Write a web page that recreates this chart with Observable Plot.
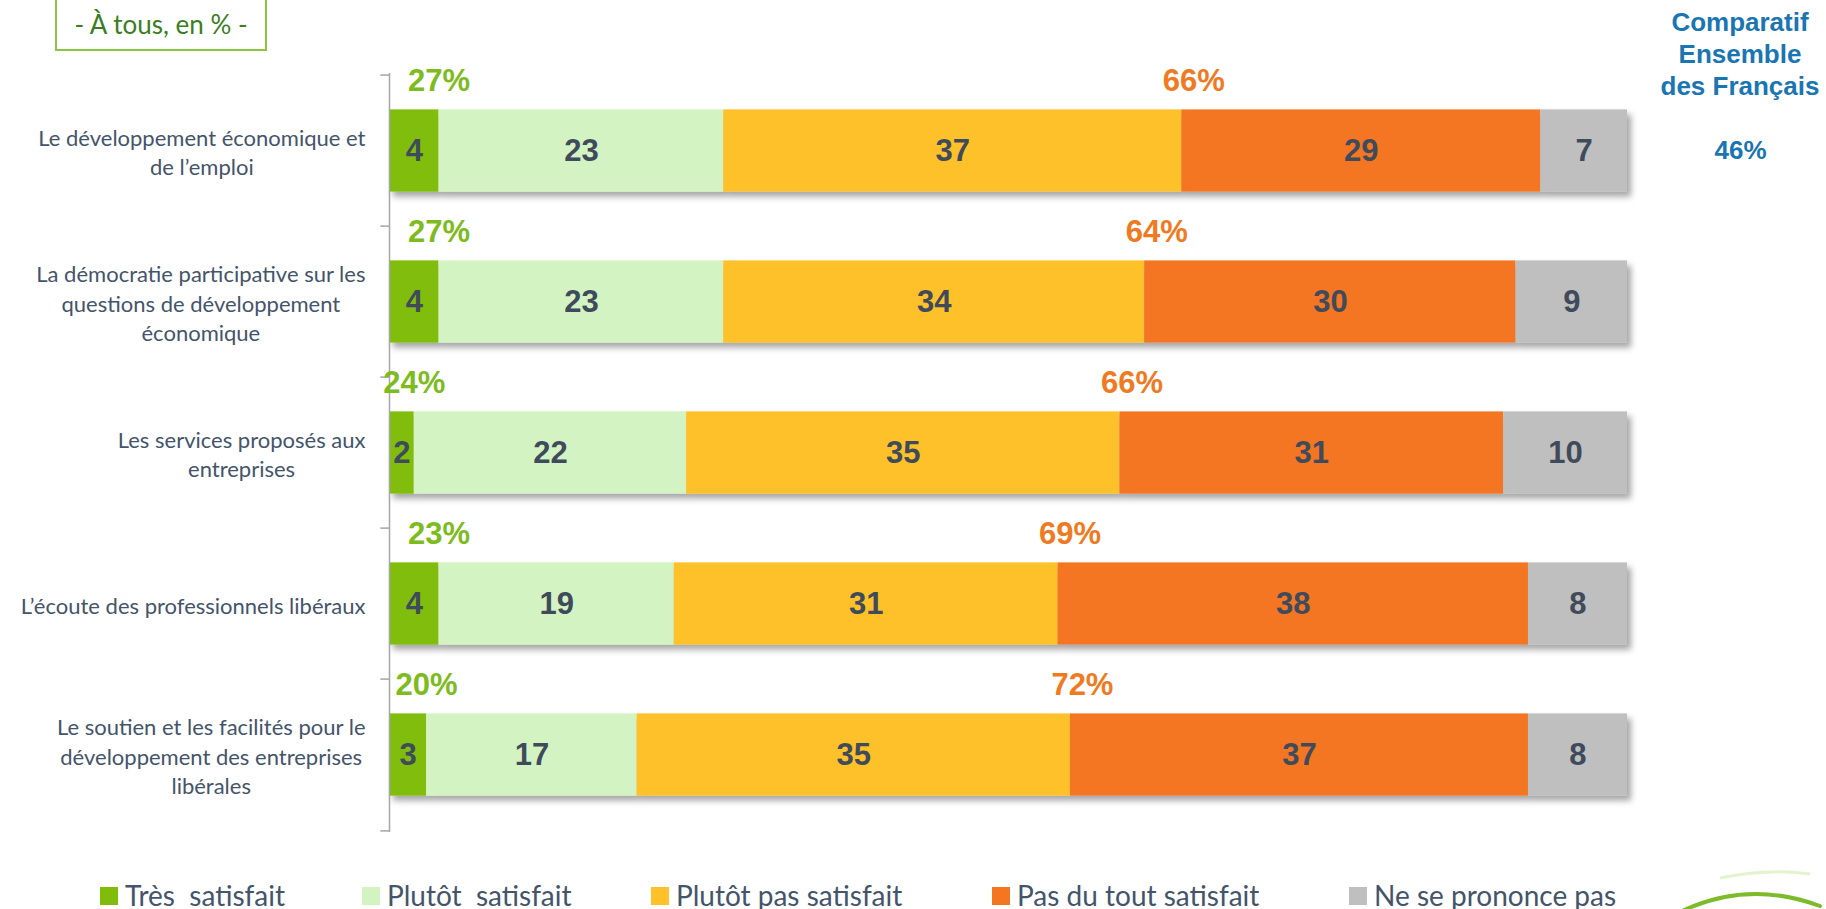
<!DOCTYPE html>
<html>
<head>
<meta charset="utf-8">
<script src="https://cdn.jsdelivr.net/npm/d3@7"></script>
<script src="https://cdn.jsdelivr.net/npm/@observablehq/plot@0.6"></script>
<style>
  html, body { margin: 0; padding: 0; background: #fff; }
  body { width: 1826px; height: 909px; overflow: hidden; position: relative; font-family: Lato, "Open Sans", sans-serif; }
  #chart { position: absolute; left: 0; top: 0; }
  #titlebox { position: absolute; left: 55px; top: -3px; width: 208px; height: 50px; border: 2px solid #8cc63e; box-sizing: content-box;
    color: #3b7d23; font-family: Lato, sans-serif; font-size: 26px; display: flex; align-items: center; justify-content: center; }
  #comp { position: absolute; left: 1640px; width: 200px; top: 6px; text-align: center; color: #1a75b3;
    font-family: "Liberation Sans", Arial, sans-serif; font-weight: bold; font-size: 26px; line-height: 32px; }
  #legend { position: absolute; left: 0; top: 870px; width: 1826px; height: 39px; }
  .li { position: absolute; top: 0; height: 39px; }
  .sw { position: absolute; top: 17px; width: 18px; height: 18px; }
  .lt { position: absolute; top: 9px; left: 25px; white-space: pre; font-family: Lato, sans-serif; font-size: 28px; color: #44546a; line-height: 32px; }
  #logo { position: absolute; left: 1680px; top: 860px; }
</style>
</head>
<body>
<div id="chart"></div>
<div id="titlebox">- À tous, en % -</div>
<div id="comp">Comparatif<br>Ensemble<br>des Français</div>
<div id="legend"></div>
<svg id="logo" width="146" height="49">
  <path d="M4,50 Q70,20 140,46" fill="none" stroke="#7dbb2a" stroke-width="4" stroke-linecap="round"/>
  <path d="M40,18 Q90,8 130,14" fill="none" stroke="#e3f3cf" stroke-width="3"/>
</svg>
<script>
// ---- data ----
const categories = [
  "Le développement économique et\nde l’emploi",
  "La démocratie participative sur les\nquestions de développement\néconomique",
  "Les services proposés aux\nentreprises",
  "L’écoute des professionnels libéraux",
  "Le soutien et les facilités pour le\ndéveloppement des entreprises\nlibérales"
];
const levels = ["Très  satisfait", "Plutôt  satisfait", "Plutôt pas satisfait", "Pas du tout satisfait", "Ne se prononce pas"];
const tresSatisfait   = [4, 4, 2, 4, 3];
const plutotSatisfait = [23, 23, 22, 19, 17];
const plutotPas       = [37, 34, 35, 31, 35];
const pasDuTout       = [29, 30, 31, 38, 37];
const nsp             = [7, 9, 10, 8, 8];
const totalSatisfait    = ["27%", "27%", "24%", "23%", "20%"];
const totalPasSatisfait = ["66%", "64%", "66%", "69%", "72%"];
const comparatif        = ["46%", "", "", "", ""];
const colors = ["#80bd0b", "#d3f4c2", "#ffc12a", "#f47621", "#bfbfbf"];

// ---- build tables ----
const series = [tresSatisfait, plutotSatisfait, plutotPas, pasDuTout, nsp];
const rows = [];
categories.forEach((cat, i) => levels.forEach((lev, j) => rows.push({cat, level: lev, value: series[j][i]})));
const totals = categories.map((cat, i) => ({
  cat,
  sat: tresSatisfait[i],
  satLabel: totalSatisfait[i],
  boundary: tresSatisfait[i] + plutotSatisfait[i] + plutotPas[i],
  insatLabel: totalPasSatisfait[i],
  comp: comparatif[i]
}));

const W = 1826, H = 870, mt = 73, mb = 38, ml = 389, mr = 199;
const step = (H - mt - mb) / categories.length;
const barInset = (step - 83) / 2;

const plot = Plot.plot({
  width: W, height: H,
  marginTop: mt, marginBottom: mb, marginLeft: ml, marginRight: mr,
  x: {domain: [0, 100], axis: null},
  y: {domain: categories, axis: null, padding: 0},
  color: {domain: levels, range: colors},
  style: {background: "transparent"},
  marks: [
    Plot.barX(rows, Plot.stackX({x: "value", y: "cat", fill: "level", insetTop: barInset, insetBottom: barInset})),
    Plot.text(rows, Plot.stackX({x: "value", y: "cat", text: "value", fill: "#3f4b5b",
      fontSize: 31, fontWeight: "bold", fontFamily: "Liberation Sans, Arial, sans-serif"})),
    Plot.ruleX([0], {stroke: "#a6a6a6", strokeWidth: 1.5}),
    Plot.ruleY(categories, {y: d => d, x1: -0.7, x2: 0, dy: -step / 2, stroke: "#a6a6a6", strokeWidth: 1.5}),
    Plot.ruleY(categories.slice(-1), {y: d => d, x1: -0.7, x2: 0, dy: step / 2, stroke: "#a6a6a6", strokeWidth: 1.5}),
    Plot.text(totals, {x: "sat", y: "cat", text: "satLabel", dy: -70, fill: "#7dbb1e",
      fontSize: 31, fontWeight: "bold", fontFamily: "Liberation Sans, Arial, sans-serif"}),
    Plot.text(totals, {x: "boundary", y: "cat", text: "insatLabel", dx: 12, dy: -70, fill: "#f07a21",
      fontSize: 31, fontWeight: "bold", fontFamily: "Liberation Sans, Arial, sans-serif"}),
    Plot.text(totals, {y: "cat", text: "comp", frameAnchor: "right", dx: 113, textAnchor: "middle", fill: "#1a75b3",
      fontSize: 26, fontWeight: "bold", fontFamily: "Liberation Sans, Arial, sans-serif"}),
    Plot.text(categories, {y: d => d, text: d => d, frameAnchor: "left", dx: -24, textAnchor: "end",
      fill: "#44546a", fontSize: 22, lineHeight: 1.35, fontFamily: "Lato, sans-serif"})
  ]
});
document.getElementById("chart").appendChild(plot);

// drop shadow under bars
const svg = d3.select(plot);
const defs = svg.insert("defs", ":first-child");
defs.append("filter").attr("id", "shadow").attr("x", "-5%").attr("y", "-20%").attr("width", "115%").attr("height", "160%")
  .append("feDropShadow").attr("dx", 4).attr("dy", 5).attr("stdDeviation", 3).attr("flood-color", "#000").attr("flood-opacity", 0.35);
svg.select('g[aria-label="bar"]').attr("filter", "url(#shadow)");

// center each multi-line row label on its longest line (right edge kept)
const textGroups = plot.querySelectorAll('g[aria-label="text"]');
const labelGroup = textGroups[textGroups.length - 1];
labelGroup.querySelectorAll("text").forEach(t => {
  const w = t.getBBox().width;
  t.setAttribute("text-anchor", "middle");
  t.setAttribute("transform", (t.getAttribute("transform") || "") + ` translate(${-w / 2},0)`);
});

// legend
const legendX = [100, 362, 651, 992, 1349];
const leg = d3.select("#legend");
levels.forEach((lev, j) => {
  const item = leg.append("div").attr("class", "li").style("left", legendX[j] + "px");
  item.append("div").attr("class", "sw").style("background", colors[j]);
  item.append("div").attr("class", "lt").text(lev);
});
</script>
</body>
</html>
